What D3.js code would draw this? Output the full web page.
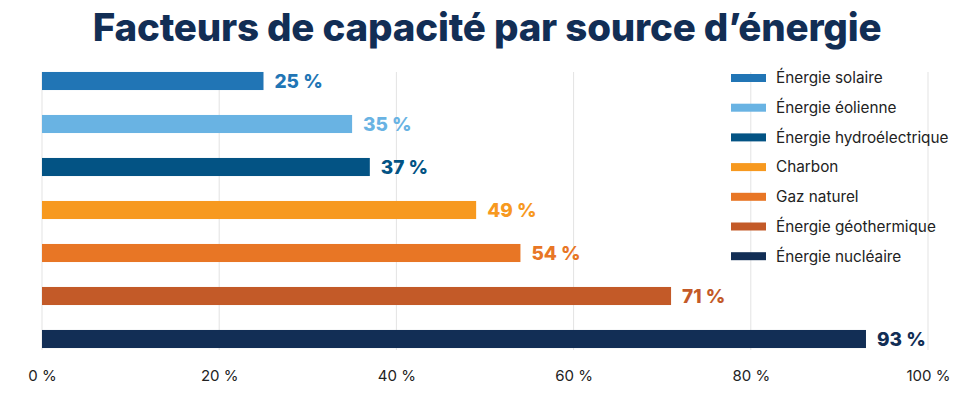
<!DOCTYPE html>
<html>
<head>
<meta charset="utf-8">
<script src="https://cdn.jsdelivr.net/npm/d3@7"></script>
<style>
  body { margin: 0; background: #fff; }
  svg { display: block; font-family: Inter, "Open Sans", sans-serif; }
</style>
</head>
<body>
<script>
// data
const sources = ["Énergie solaire", "Énergie éolienne", "Énergie hydroélectrique", "Charbon",
    "Gaz naturel", "Énergie géothermique", "Énergie nucléaire"];
const capacity = [25, 35, 37, 49, 54, 71, 93];
const colors = ["#2175b5", "#69b3e3", "#035384", "#f7991f", "#e87625", "#c35a28", "#122e55"];
const ticks = [0, 20, 40, 60, 80, 100];

const width = 975, height = 397;

const svg = d3.select("body").append("svg")
    .attr("width", width)
    .attr("height", height);

// title
svg.append("text")
    .attr("x", 487)
    .attr("y", 41)
    .attr("text-anchor", "middle")
    .style("font-size", "38.5px")
    .style("font-weight", 800)
    .style("letter-spacing", "-0.2px")
    .style("fill", "#122e55")
    .text("Facteurs de capacité par source d’énergie");

// scales
const x = d3.scaleLinear().domain([0, 100]).range([42, 928]);
const y = d3.scaleBand().domain(sources).range([59.5, 360.5]).paddingInner(0.58).paddingOuter(0.29);

// grid
svg.append("g").selectAll("line")
    .data(ticks)
    .enter().append("line")
    .attr("x1", d => x(d)).attr("x2", d => x(d))
    .attr("y1", 72).attr("y2", 350)
    .style("stroke", "#e3e3e3")
    .style("stroke-width", 1);

// axis
const axis = svg.append("g")
    .attr("transform", "translate(0,362)")
    .call(d3.axisBottom(x).tickValues(ticks).tickSize(0).tickPadding(8).tickFormat(d => d + " %"));
axis.select(".domain").remove();
axis.selectAll("text")
    .style("font-family", "Inter, sans-serif")
    .style("font-size", "15px")
    .style("fill", "#222");

// bars
svg.append("g").selectAll("rect")
    .data(sources)
    .enter().append("rect")
    .attr("x", x(0))
    .attr("y", d => y(d))
    .attr("width", (d, i) => x(capacity[i]) - x(0))
    .attr("height", y.bandwidth())
    .style("fill", (d, i) => colors[i]);

// value labels
svg.append("g").selectAll("text")
    .data(sources)
    .enter().append("text")
    .attr("x", (d, i) => x(capacity[i]) + 11)
    .attr("y", d => y(d) + y.bandwidth() / 2)
    .attr("dy", "0.36em")
    .style("font-size", "19px")
    .style("font-weight", 800)
    .style("fill", (d, i) => colors[i])
    .text((d, i) => capacity[i] + " %");

// legend
const legend = svg.append("g").selectAll("g")
    .data(sources)
    .enter().append("g")
    .attr("transform", (d, i) => "translate(731," + (78 + i * 29.7) + ")");

legend.append("rect")
    .attr("x", 0).attr("y", -4)
    .attr("width", 35).attr("height", 8)
    .style("fill", (d, i) => colors[i]);

legend.append("text")
    .attr("x", 45)
    .attr("dy", "0.35em")
    .style("font-size", "15.3px")
    .style("fill", "#222")
    .text(d => d);
</script>
</body>
</html>
